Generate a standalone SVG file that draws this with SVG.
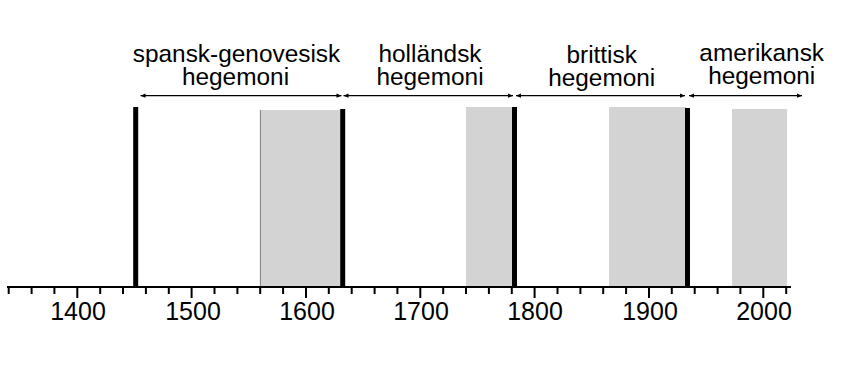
<svg xmlns="http://www.w3.org/2000/svg" width="850" height="386" viewBox="0 0 850 386">
<style>
.lbl{font-family:"Liberation Sans",Arial,sans-serif;font-size:24.4px;fill:#000;text-anchor:middle}
.yr{font-family:"Liberation Sans",Arial,sans-serif;font-size:25px;fill:#000;text-anchor:middle}
.shade{fill:#d3d3d3}
.bar{fill:#000}
.tick{stroke:#000;stroke-width:2}
.span{stroke:#000;stroke-width:1.2;fill:none;marker-start:url(#ah);marker-end:url(#ah)}
</style>
<defs>
<marker id="ah" viewBox="0 0 6 6" refX="6" refY="3" markerWidth="6" markerHeight="5" markerUnits="userSpaceOnUse" orient="auto-start-reverse">
<path d="M0,0.5 L6,3 L0,5.5 Z" fill="#000"/>
</marker>
</defs>
<rect width="850" height="386" fill="#fff"/>
<g id="periods">
<rect class="shade" x="260.2" y="110" width="80" height="177"/>
<line x1="260.4" y1="110" x2="260.4" y2="287" stroke="#666" stroke-width="0.8"/>
<rect class="shade" x="466" y="107" width="47" height="180"/>
<rect class="shade" x="609" y="107" width="77" height="180"/>
<rect class="shade" x="732" y="109" width="55" height="178"/>
</g>
<g id="boundaries">
<rect class="bar" x="133.2" y="107" width="5" height="181"/>
<rect class="bar" x="340.2" y="109" width="5" height="179"/>
<rect class="bar" x="512" y="107" width="5" height="181"/>
<rect class="bar" x="685" y="108" width="5" height="180"/>
</g>
<g id="axis">
<line x1="7" y1="287" x2="791" y2="287" stroke="#000" stroke-width="2.2"/>
<g class="tick">
<line x1="8.7" y1="287" x2="8.7" y2="294"/>
<line x1="31.6" y1="287" x2="31.6" y2="294"/>
<line x1="54.4" y1="287" x2="54.4" y2="294"/>
<line x1="77.3" y1="287" x2="77.3" y2="298"/>
<line x1="100.2" y1="287" x2="100.2" y2="294"/>
<line x1="123" y1="287" x2="123" y2="294"/>
<line x1="145.9" y1="287" x2="145.9" y2="294"/>
<line x1="168.8" y1="287" x2="168.8" y2="294"/>
<line x1="191.6" y1="287" x2="191.6" y2="298"/>
<line x1="214.5" y1="287" x2="214.5" y2="294"/>
<line x1="237.4" y1="287" x2="237.4" y2="294"/>
<line x1="260.2" y1="287" x2="260.2" y2="294"/>
<line x1="283.1" y1="287" x2="283.1" y2="294"/>
<line x1="306" y1="287" x2="306" y2="298"/>
<line x1="328.8" y1="287" x2="328.8" y2="294"/>
<line x1="351.7" y1="287" x2="351.7" y2="294"/>
<line x1="374.6" y1="287" x2="374.6" y2="294"/>
<line x1="397.4" y1="287" x2="397.4" y2="294"/>
<line x1="420.3" y1="287" x2="420.3" y2="298"/>
<line x1="443.2" y1="287" x2="443.2" y2="294"/>
<line x1="466" y1="287" x2="466" y2="294"/>
<line x1="488.9" y1="287" x2="488.9" y2="294"/>
<line x1="511.8" y1="287" x2="511.8" y2="294"/>
<line x1="534.6" y1="287" x2="534.6" y2="298"/>
<line x1="557.5" y1="287" x2="557.5" y2="294"/>
<line x1="580.4" y1="287" x2="580.4" y2="294"/>
<line x1="603.2" y1="287" x2="603.2" y2="294"/>
<line x1="626.1" y1="287" x2="626.1" y2="294"/>
<line x1="649" y1="287" x2="649" y2="298"/>
<line x1="671.8" y1="287" x2="671.8" y2="294"/>
<line x1="694.7" y1="287" x2="694.7" y2="294"/>
<line x1="717.6" y1="287" x2="717.6" y2="294"/>
<line x1="740.4" y1="287" x2="740.4" y2="294"/>
<line x1="763.3" y1="287" x2="763.3" y2="298"/>
<line x1="786.2" y1="287" x2="786.2" y2="294"/>
</g>
<text class="yr" x="78" y="320">1400</text>
<text class="yr" x="193" y="320">1500</text>
<text class="yr" x="307" y="320">1600</text>
<text class="yr" x="421" y="320">1700</text>
<text class="yr" x="535" y="320">1800</text>
<text class="yr" x="650" y="320">1900</text>
<text class="yr" x="764" y="320">2000</text>
</g>
<g id="connectors">
<line class="span" x1="140.5" y1="95.7" x2="341.5" y2="95.7"/>
<line class="span" x1="343.5" y1="95.7" x2="513" y2="95.7"/>
<line class="span" x1="516" y1="95.7" x2="685" y2="95.7"/>
<line class="span" x1="689" y1="95.7" x2="802" y2="95.7"/>
</g>
<g id="spanish-genoese">
<text class="lbl" x="236.5" y="62">spansk-genovesisk</text>
<text class="lbl" x="235.5" y="85">hegemoni</text>
</g>
<g id="dutch">
<text class="lbl" x="430" y="62">holländsk</text>
<text class="lbl" x="430" y="85">hegemoni</text>
</g>
<g id="british">
<text class="lbl" x="601.7" y="63">brittisk</text>
<text class="lbl" x="601.7" y="86">hegemoni</text>
</g>
<g id="american">
<text class="lbl" x="761.7" y="61">amerikansk</text>
<text class="lbl" x="761.7" y="84">hegemoni</text>
</g>
</svg>
